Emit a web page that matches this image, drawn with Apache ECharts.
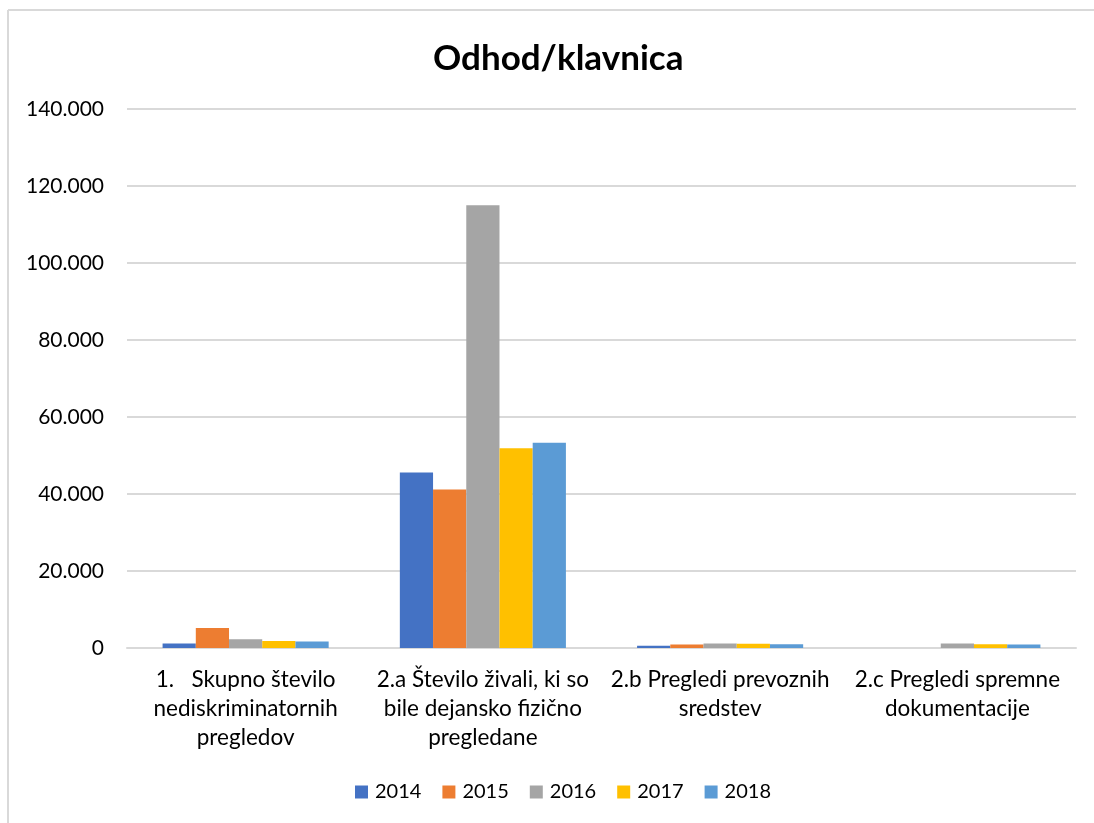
<!DOCTYPE html>
<html>
<head>
<meta charset="utf-8">
<script src="https://cdn.jsdelivr.net/npm/echarts@6/dist/echarts.min.js"></script>
<style>
  html, body { margin: 0; padding: 0; background: #fff; }
  #chart { width: 1094px; height: 823px; }
</style>
</head>
<body>
<div id="chart"></div>
<script>
// kategorije in vrednosti
const categories = [
  '1.   Skupno število\nnediskriminatornih\npregledov',
  '2.a Število živali, ki so\nbile dejansko fizično\npregledane',
  '2.b Pregledi prevoznih\nsredstev',
  '2.c Pregledi spremne\ndokumentacije'
]
const years = ['2014', '2015', '2016', '2017', '2018']
const v2014 = [1200, 45600, 600, 0]
const v2015 = [5200, 41200, 900, 0]
const v2016 = [2300, 115000, 1200, 1200]
const v2017 = [1800, 51900, 1100, 1000]
const v2018 = [1700, 53300, 1000, 900]
const colors = ['#4472C4', '#ED7D31', '#A5A5A5', '#FFC000', '#5B9BD5']

const font = 'Lato, "Open Sans", "Liberation Sans", sans-serif'

function fmt(v) {
  // 140000 -> 140.000
  return String(v).replace(/\B(?=(\d{3})+(?!\d))/g, '.')
}

const chart = echarts.init(document.getElementById('chart'))
chart.setOption({
  animation: false,
  color: colors,
  title: {
    text: 'Odhod/klavnica',
    left: 428,
    top: 36,
    textStyle: { fontFamily: font, fontSize: 35, fontWeight: 'bold', color: '#000' }
  },
  graphic: [
    { type: 'line', shape: { x1: 8, y1: 10, x2: 8, y2: 823 }, style: { stroke: '#d9d9d9', lineWidth: 2 } },
    { type: 'line', shape: { x1: 8, y1: 10, x2: 1094, y2: 10 }, style: { stroke: '#d9d9d9', lineWidth: 2 } }
  ],
  grid: {
    left: 127,
    right: 18,
    top: 109,
    bottom: 175
  },
  legend: {
    data: years,
    bottom: 16,
    left: 350,
    itemWidth: 13,
    itemHeight: 13,
    itemGap: 21,
    icon: 'rect',
    textStyle: { fontFamily: font, fontSize: 20, color: '#000', padding: [0, 0, 0, 2] }
  },
  xAxis: {
    type: 'category',
    data: categories,
    axisTick: { show: false },
    axisLine: { lineStyle: { color: '#d9d9d9', width: 2 } },
    axisLabel: {
      interval: 0,
      margin: 17,
      fontFamily: font,
      fontSize: 22.5,
      lineHeight: 29,
      color: '#000'
    }
  },
  yAxis: {
    type: 'value',
    min: 0,
    max: 140000,
    interval: 20000,
    axisLine: { show: false },
    axisTick: { show: false },
    splitLine: { lineStyle: { color: '#d9d9d9', width: 2 } },
    axisLabel: {
      margin: 23,
      fontFamily: font,
      fontSize: 21,
      color: '#000',
      formatter: fmt
    }
  },
  series: [
    { name: '2014', type: 'bar', data: v2014, barGap: '0%', barCategoryGap: '30%' },
    { name: '2015', type: 'bar', data: v2015 },
    { name: '2016', type: 'bar', data: v2016 },
    { name: '2017', type: 'bar', data: v2017 },
    { name: '2018', type: 'bar', data: v2018 }
  ]
})
</script>
</body>
</html>
